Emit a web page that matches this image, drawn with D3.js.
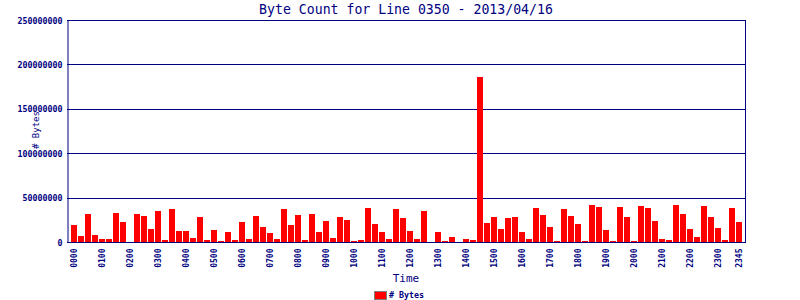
<!DOCTYPE html>
<html>
<head>
<meta charset="utf-8">
<script src="https://cdn.jsdelivr.net/npm/d3@7"></script>
<style>
  body { margin: 0; background: #fff; }
  svg { display: block; }
</style>
</head>
<body>
<div id="my_dataviz"></div>
<script>

// tick labels shown under the x axis
var tickLabels = ["0000", "0100", "0200", "0300", "0400", "0500", "0600", "0700",
                  "0800", "0900", "1000", "1100", "1200", "1300", "1400", "1500",
                  "1600", "1700", "1800", "1900", "2000", "2100", "2200", "2300", "2345"];

// 15 minute slots
var hours = ["00","01","02","03","04","05","06","07","08","09","10","11",
             "12","13","14","15","16","17","18","19","20","21","22","23"];
var minutes = ["00", "15", "30", "45"];
var categories = [];
hours.forEach(function(h) { minutes.forEach(function(m) { categories.push(h + m); }); });

// byte counts per slot
var bytes = [
    19500000, 6900000, 32000000, 8000000, 3400000, 3400000, 33200000, 22900000,
    0, 32000000, 29800000, 14900000, 34400000, 2300000, 36600000, 12600000,
    12600000, 4600000, 28600000, 2300000, 13700000, 1100000, 11500000, 2300000,
    22900000, 3400000, 29800000, 17200000, 10300000, 3400000, 36600000, 19500000,
    30900000, 2300000, 32000000, 11500000, 24000000, 4600000, 28600000, 25200000,
    1100000, 2300000, 37800000, 20600000, 11500000, 3400000, 36600000, 27500000,
    12600000, 3400000, 34400000, 0, 11500000, 1100000, 5700000, 0,
    3400000, 2300000, 186000000, 21800000, 28600000, 14900000, 27500000, 28600000,
    11500000, 3400000, 37800000, 30900000, 17200000, 1100000, 36600000, 29800000,
    20600000, 1100000, 41200000, 38900000, 13700000, 1100000, 38900000, 28600000,
    1100000, 40100000, 37800000, 24000000, 3400000, 2300000, 41200000, 32000000,
    14900000, 5700000, 40100000, 28600000, 16000000, 2300000, 37800000, 22900000
];

var yTicks = [0, 50000000, 100000000, 150000000, 200000000, 250000000];

var data = categories.map(function(c, i) { return {"x": c, "y": bytes[i]}; });

var navy = "#000080";
var mono = "'DejaVu Sans Mono', monospace";

var width = 800, height = 300;
var plot = {left: 67, right: 745, top: 20, bottom: 242};

var svg = d3.select("#my_dataviz")
    .append("svg")
        .attr("width", width)
        .attr("height", height);

var x = d3.scaleBand()
    .domain(categories)
    .range([70.5, 742.5])
    .paddingInner(1 / 7)
    .paddingOuter(1 / 14);

var y = d3.scaleLinear()
    .domain([0, 250000000])
    .range([plot.bottom, plot.top]);

// grid lines
svg.append("g")
    .selectAll("line")
    .data(yTicks)
    .enter()
    .append("line")
    .attr("x1", plot.left)
    .attr("x2", plot.right)
    .attr("y1", function(d) { return Math.round(y(d)) + 0.5; })
    .attr("y2", function(d) { return Math.round(y(d)) + 0.5; })
    .attr("stroke", navy)
    .attr("stroke-width", 1);

// right edge of plot
svg.append("line")
    .attr("x1", plot.right + 0.5)
    .attr("x2", plot.right + 0.5)
    .attr("y1", plot.top)
    .attr("y2", plot.bottom + 1)
    .attr("stroke", navy);

// Bars
svg.append("g")
    .selectAll("rect")
    .data(data)
    .enter()
    .append("rect")
    .attr("x", function(d) { return x(d.x); })
    .attr("width", x.bandwidth())
    .attr("y", function(d) { return Math.round(y(d.y)); })
    .attr("height", function(d) { return plot.bottom - Math.round(y(d.y)); })
    .attr("fill", "#ff0000")
    .attr("shape-rendering", "crispEdges");

// Y axis
var yAxis = svg.append("g")
    .attr("transform", "translate(" + (plot.left + 0.5) + ",0.5)")
    .call(d3.axisLeft(y).tickValues(yTicks).tickSize(0).tickPadding(5)
        .tickFormat(function(d) { return String(d); }));
yAxis.select(".domain").attr("stroke", navy);
yAxis.selectAll("text")
    .attr("fill", navy)
    .style("font-family", mono)
    .style("font-weight", "bold")
    .style("font-size", "8.3px");

// X axis
var xAxis = svg.append("g")
    .attr("transform", "translate(0," + (plot.bottom + 0.5) + ")")
    .call(d3.axisBottom(x).tickValues(tickLabels).tickSize(0).tickPadding(0));
xAxis.select(".domain")
    .attr("d", "M" + plot.left + ",0H" + (plot.right + 1))
    .attr("stroke", navy);
xAxis.selectAll("text")
    .attr("fill", navy)
    .attr("transform", "translate(0,6)rotate(-90)")
    .attr("dy", "0.35em")
    .attr("y", 0)
    .style("text-anchor", "end")
    .style("font-family", mono)
    .style("font-weight", "bold")
    .style("font-size", "8px");

// title
svg.append("text")
    .attr("x", (plot.left + plot.right) / 2)
    .attr("y", 13.5)
    .attr("text-anchor", "middle")
    .attr("fill", navy)
    .style("font-family", mono)
    .style("font-size", "13.2px")
    .text("Byte Count for Line 0350 - 2013/04/16");

// X axis label
svg.append("text")
    .attr("x", (plot.left + plot.right) / 2)
    .attr("y", 282)
    .attr("text-anchor", "middle")
    .attr("fill", navy)
    .style("font-family", mono)
    .style("font-size", "11px")
    .text("Time");

// Y axis label
svg.append("text")
    .attr("x", -(plot.top + plot.bottom) / 2 + 1)
    .attr("y", 39)
    .attr("transform", "rotate(-90)")
    .attr("text-anchor", "middle")
    .attr("fill", navy)
    .style("font-family", mono)
    .style("font-size", "9px")
    .text("# Bytes");

// legend
svg.append("rect")
    .attr("x", 374.5)
    .attr("y", 291.5)
    .attr("width", 12)
    .attr("height", 8)
    .attr("fill", "#ff0000")
    .attr("stroke", "#808080");
svg.append("text")
    .attr("x", 389)
    .attr("y", 298)
    .attr("fill", navy)
    .style("font-family", mono)
    .style("font-weight", "bold")
    .style("font-size", "8.3px")
    .text("# Bytes");

</script>
</body>
</html>
